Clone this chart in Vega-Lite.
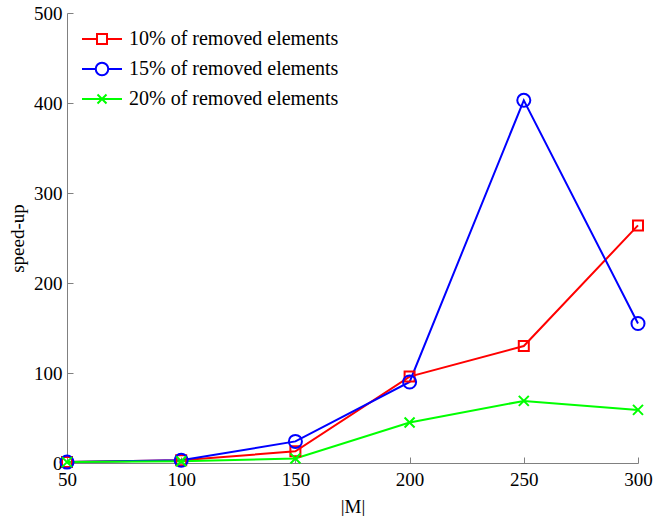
{
  "$schema": "https://vega.github.io/schema/vega-lite/v6.json",
  "autosize": {"type": "none"},
  "width": 571,
  "height": 450,
  "padding": {"left": 67, "top": 13, "right": 27, "bottom": 53},
  "background": "white",
  "config": {
    "view": {"stroke": null},
    "font": "Liberation Serif",
    "axis": {
      "domainColor": "#808080",
      "tickColor": "#808080",
      "grid": false,
      "labelFont": "Liberation Serif",
      "titleFont": "Liberation Serif",
      "labelFontSize": 19,
      "titleFontSize": 19,
      "titleFontWeight": "normal",
      "labelColor": "black",
      "titleColor": "black",
      "labelFlush": false,
      "labelOverlap": false,
      "tickSize": -6
    }
  },
  "data": {
    "values": [
      {"M": 50, "v": 1, "series": "10% of removed elements"},
      {"M": 100, "v": 3, "series": "10% of removed elements"},
      {"M": 150, "v": 13, "series": "10% of removed elements"},
      {"M": 200, "v": 96, "series": "10% of removed elements"},
      {"M": 250, "v": 130, "series": "10% of removed elements"},
      {"M": 300, "v": 264, "series": "10% of removed elements"},
      {"M": 50, "v": 1, "series": "15% of removed elements"},
      {"M": 100, "v": 3, "series": "15% of removed elements"},
      {"M": 150, "v": 24, "series": "15% of removed elements"},
      {"M": 200, "v": 90, "series": "15% of removed elements"},
      {"M": 250, "v": 403, "series": "15% of removed elements"},
      {"M": 300, "v": 155, "series": "15% of removed elements"},
      {"M": 50, "v": 1, "series": "20% of removed elements"},
      {"M": 100, "v": 2, "series": "20% of removed elements"},
      {"M": 150, "v": 5, "series": "20% of removed elements"},
      {"M": 200, "v": 45, "series": "20% of removed elements"},
      {"M": 250, "v": 69, "series": "20% of removed elements"},
      {"M": 300, "v": 59, "series": "20% of removed elements"}
    ]
  },
  "encoding": {
    "x": {
      "field": "M", "type": "quantitative",
      "scale": {"domain": [50, 300], "nice": false, "zero": false},
      "axis": {"values": [50, 100, 150, 200, 250, 300], "title": "|M|", "titlePadding": 8, "labelPadding": 13}
    },
    "y": {
      "field": "v", "type": "quantitative",
      "scale": {"domain": [0, 500], "nice": false},
      "axis": {"values": [0, 100, 200, 300, 400, 500], "title": "speed-up", "titlePadding": 6, "labelPadding": 11}
    },
    "color": {
      "field": "series", "type": "nominal",
      "scale": {"domain": ["10% of removed elements", "15% of removed elements", "20% of removed elements"], "range": ["#ff0000", "#0000ff", "#00ff00"]},
      "legend": {
        "title": null,
        "orient": "none",
        "legendX": 25,
        "legendY": 16,
        "labelFont": "Liberation Serif",
        "labelFontSize": 20,
        "labelColor": "black",
        "labelLimit": 400,
        "symbolSize": 100,
        "symbolStrokeWidth": 2,
        "symbolFillColor": "transparent",
        "labelOffset": 17,
        "rowPadding": 9,
        "encoding": {
          "symbols": {
            "shape": {"value": {"expr": "datum.value == '10% of removed elements' ? 'M-4,0H-1M1,0H4M-1,-1H1V1H-1Z' : datum.value == '15% of removed elements' ? 'M-4,0H-1.25M1.25,0H4M-1.25,0A1.25,1.25 0 1,0 1.25,0A1.25,1.25 0 1,0 -1.25,0Z' : 'M-4,0H4M-0.9,-0.9L0.9,0.9M-0.9,0.9L0.9,-0.9'"}},
            "fill": {"value": "transparent"},
            "strokeWidth": {"value": 2}
          }
        }
      }
    }
  },
  "layer": [
    {"mark": {"type": "line", "strokeWidth": 2}},
    {
      "transform": [{"filter": "datum.series == '10% of removed elements'"}],
      "mark": {"type": "point", "shape": "square", "size": 100, "filled": false, "strokeWidth": 2, "opacity": 1}
    },
    {
      "transform": [{"filter": "datum.series == '15% of removed elements'"}],
      "mark": {"type": "point", "shape": "circle", "size": 170, "filled": false, "strokeWidth": 2, "opacity": 1}
    },
    {
      "transform": [{"filter": "datum.series == '20% of removed elements'"}],
      "mark": {"type": "point", "shape": "M-1,-1L1,1M-1,1L1,-1", "size": 100, "filled": false, "strokeWidth": 2, "opacity": 1}
    }
  ]
}
